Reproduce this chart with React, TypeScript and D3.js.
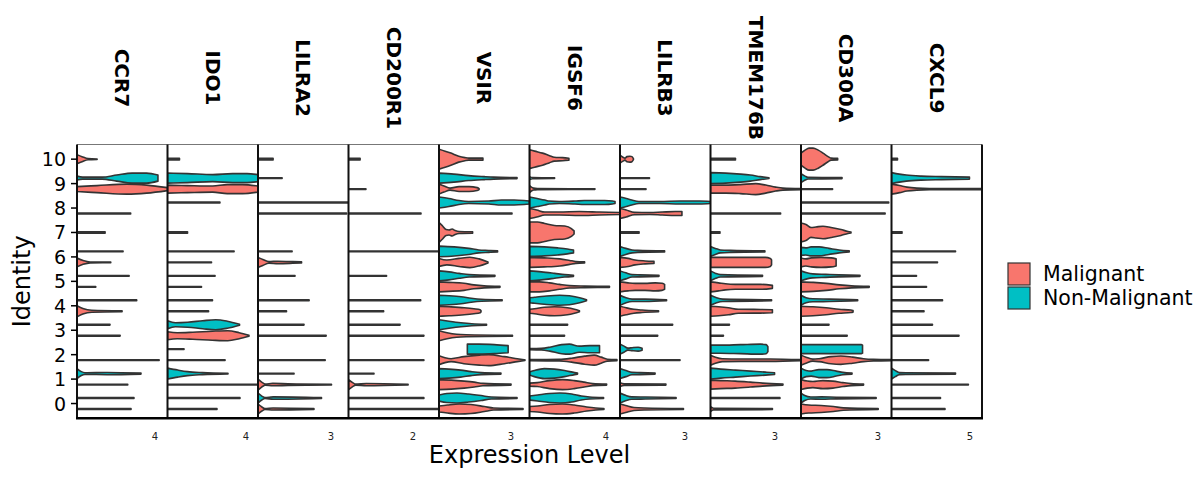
import * as d3 from 'd3'

// [identity, group (M = Malignant, N = Non-Malignant), max expression, density profile]
// profile is a flat list of (fraction of max, relative width) pairs; omitted means a bare tail
type Violin = [number, 'M' | 'N', number, number[]?]

const genes = ['CCR7', 'IDO1', 'LILRA2', 'CD200R1', 'VSIR', 'IGSF6', 'LILRB3', 'TMEM176B', 'CD300A', 'CXCL9']
const geneMax = [4.64, 4.61, 3.72, 2.81, 3.77, 4.73, 4.18, 4.21, 3.53, 5.77]
const geneTicks = [4, 4, 3, 2, 3, 4, 3, 3, 3, 5]
const identities = [0, 1, 2, 3, 4, 5, 6, 7, 8, 9, 10]
const groups = ['Malignant', 'Non-Malignant']
const groupColors = ['#F8766D', '#00BFC4']
const malignantOnly = [7, 10]

const ccr7: Violin[] = [
  [10, 'M', 1.03, [0, .41, .25, .23, .55, .05, 1, .02]],
  [9, 'N', 4.15, [0, .36, .07, .18, .31, .18, .49, .55, .68, .91, .86, .91, 1, .55]],
  [9, 'M', 4.64, [0, .45, .22, .64, .55, .91, .77, .73, 1, .27]],
  [8, 'M', 2.75], [7, 'M', 1.44], [6, 'N', 2.36],
  [6, 'M', 1.73, [0, .8, .18, .35, .39, .08, 1, .05]],
  [5, 'N', 2.67], [5, 'M', 0.96], [4, 'N', 3.06],
  [4, 'M', 2.31, [0, 1, .13, .5, .33, .18, 1, .09]],
  [3, 'N', 1.69], [3, 'M', 2.21], [2, 'M', 4.21],
  [1, 'N', 3.28, [0, .9, .06, .4, .125, .15, .47, .2, 1, .09]],
  [1, 'M', 2.6], [0, 'N', 2.92], [0, 'M', 2.77],
]

const ido1: Violin[] = [
  [10, 'M', 0.61],
  [9, 'N', 4.61, [0, .91, .22, .82, .5, .64, .72, .82, .88, .82, 1, .64]],
  [9, 'M', 4.61, [0, .73, .22, .64, .5, .55, .66, .82, .83, .82, 1, .55]],
  [8, 'N', 2.67], [7, 'M', 1.02], [6, 'N', 3.39], [6, 'M', 2.24],
  [5, 'N', 2.42], [5, 'M', 1.73], [4, 'N', 2.29], [4, 'M', 2.09],
  [3, 'N', 3.67, [0, .73, .11, .36, .28, .45, .49, .73, .67, .91, .83, .64, 1, .09]],
  [3, 'M', 4.15, [0, .73, .12, .55, .31, .64, .55, .82, .74, .91, .88, .55, 1, .09]],
  [2, 'N', 0.84], [2, 'M', 2.93],
  [1, 'N', 3.08, [0, 1, .17, .64, .33, .36, .58, .18, 1, .05]],
  [1, 'M', 4.61], [0, 'N', 3.69], [0, 'M', 2.52],
]

const lilra2: Violin[] = [
  [10, 'M', 0.62], [9, 'N', 0.99], [8, 'N', 3.72], [8, 'M', 3.64], [6, 'N', 1.4],
  [6, 'M', 1.79, [0, .91, .11, .55, .25, .15, .46, .22, .8, .15, 1, .09]],
  [5, 'N', 1.52], [4, 'N', 2.1], [4, 'M', 1.17], [3, 'N', 1.89], [3, 'M', 2.8],
  [2, 'M', 2.76], [1, 'N', 1.48],
  [1, 'M', 3.02, [0, 1, .05, .45, .1, .09, .2, .22, .41, .15, 1, .07]],
  [0, 'N', 2.61, [0, .91, .06, .36, .11, .09, .24, .22, 1, .07]],
  [0, 'M', 2.3, [0, .91, .07, .36, .125, .09, .27, .18, 1, .07]],
]

const cd200r1: Violin[] = [
  [10, 'M', 0.36], [9, 'M', 0.54], [8, 'M', 2.25], [6, 'N', 2.81], [5, 'N', 1.18],
  [4, 'N', 2.24], [4, 'M', 1.09], [3, 'N', 1.6], [3, 'M', 2.34], [2, 'M', 2.34],
  [1, 'N', 0.79],
  [1, 'M', 1.85, [0, .91, .07, .36, .12, .09, .3, .2, 1, .07]],
  [0, 'N', 2.34], [0, 'M', 2.81],
]

const vsir: Violin[] = [
  [10, 'M', 1.83, [0, .91, .14, .73, .27, .55, .45, .27, .59, .14, .68, .09, 1, .09]],
  [9, 'N', 3.25, [0, .91, .19, .73, .38, .45, .58, .27, .7, .18, 1, .09]],
  [9, 'M', 1.67, [0, .91, .125, .55, .275, .18, .5, .45, .75, .45, .95, .27, 1, .09]],
  [8, 'N', 3.77, [0, 1, .11, .73, .22, .36, .33, .18, .55, .27, .69, .45, .83, .45, .94, .36, 1, .27]],
  [8, 'M', 3.04],
  [7, 'M', 1.4, [0, .91, .09, .64, .21, .27, .3, .23, .39, .32, .48, .18, .6, .09, 1, .07]],
  [6, 'N', 2.44, [0, .96, .26, .82, .51, .55, .68, .27, .85, .18, 1, .09]],
  [6, 'M', 2.04, [0, .73, .16, .45, .41, .73, .63, .95, .82, .64, 1, .09]],
  [5, 'N', 2.33, [0, .91, .18, .73, .36, .45, .54, .22, 1, .09]],
  [5, 'M', 2.54, [0, .91, .16, .82, .41, .64, .57, .36, .74, .18, 1, .09]],
  [4, 'N', 2.63, [0, .91, .16, .82, .35, .64, .51, .36, .67, .18, 1, .09]],
  [4, 'M', 1.75, [0, .91, .24, .82, .6, .64, .83, .45, .98, .27, 1, .09]],
  [3, 'N', 1.98, [0, .91, .21, .64, .46, .36, .69, .18, 1, .09]],
  [3, 'M', 3.06, [0, .91, .11, .55, .24, .27, .37, .18, 1, .09]],
  [2, 'N', 2.88, [.41, .91, .58, .91, .8, .82, 1, .64]],
  [2, 'M', 3.58, [0, .82, .07, .45, .14, .27, .29, .64, .47, .91, .58, 1, .76, .64, .91, .27, 1, .05]],
  [1, 'N', 2.58, [0, .91, .16, .82, .35, .64, .52, .36, .68, .18, 1, .09]],
  [1, 'M', 3.0, [0, .91, .17, .82, .35, .64, .49, .45, .61, .22, 1, .09]],
  [0, 'N', 3.25, [0, .55, .1, .82, .23, .91, .38, .73, .54, .45, .67, .18, 1, .09]],
  [0, 'M', 3.5, [0, .55, .1, .73, .24, .91, .38, .82, .54, .45, .65, .18, 1, .09]],
]

const igsf6: Violin[] = [
  [10, 'M', 2.06, [0, .86, .13, .73, .33, .55, .51, .32, .63, .18, .84, .14, 1, .09]],
  [9, 'N', 1.31, [0, .27, .12, .09, 1, .05]],
  [9, 'M', 3.42, [0, .64, .06, .18, .12, .09, 1, .05]],
  [8, 'N', 4.47, [0, 1, .09, .73, .18, .45, .23, .27, .35, .18, .53, .27, .64, .36, .88, .36, .97, .27, 1, .18]],
  [8, 'M', 4.73, [0, .91, .08, .64, .17, .27, .33, .27, .55, .36, .77, .27, 1, .18]],
  [7, 'M', 2.33, [0, .95, .18, .95, .34, .82, .56, .64, .79, .59, .94, .36, 1, .14]],
  [6, 'N', 2.3, [0, .91, .34, .82, .64, .64, .86, .45, 1, .27]],
  [6, 'M', 2.88, [0, .91, .27, .82, .55, .64, .73, .36, .84, .18, 1, .09]],
  [5, 'N', 2.3, [0, .91, .27, .73, .57, .45, .8, .22, 1, .09]],
  [5, 'M', 4.18, [0, .91, .125, .91, .25, .73, .375, .45, .5, .22, .69, .15, 1, .09]],
  [4, 'N', 2.98, [0, .45, .09, .55, .26, .73, .53, .91, .7, .82, .88, .45, 1, .09]],
  [4, 'M', 2.61, [0, .36, .1, .45, .3, .73, .5, .82, .76, .64, .9, .36, 1, .09]],
  [3, 'N', 1.99], [3, 'M', 1.83],
  [2, 'N', 3.66, [0, .09, .17, .15, .29, .36, .46, .82, .57, .91, .71, .55, .86, .64, 1, .64]],
  [2, 'M', 4.57, [0, .09, .34, .15, .48, .36, .63, .73, .74, .91, .82, .55, .89, .18, 1, .09]],
  [1, 'N', 2.51, [0, .27, .1, .55, .31, .91, .52, .82, .73, .55, .94, .18, 1, .09]],
  [1, 'M', 4.03, [0, .27, .1, .36, .26, .73, .43, .91, .58, .73, .71, .45, .82, .18, 1, .09]],
  [0, 'N', 3.87, [0, .36, .11, .55, .27, .82, .41, .91, .57, .73, .7, .36, .81, .18, 1, .09]],
  [0, 'M', 3.89, [0, .45, .11, .55, .27, .82, .44, .91, .6, .73, .77, .36, .89, .18, 1, .09]],
]

const lilrb3: Violin[] = [
  [10, 'M', 0.62, [0, .36, .22, .18, .37, .09, .52, .23, .74, .27, .89, .23, 1, .05]],
  [9, 'N', 1.36], [9, 'M', 1.2],
  [8, 'N', 4.18, [0, 1, .07, .73, .13, .45, .21, .18, .44, .18, .66, .27, .88, .27, 1, .18]],
  [8, 'M', 2.86, [0, .91, .1, .64, .23, .22, .48, .18, .68, .27, .89, .36, 1, .36]],
  [7, 'M', 0.88],
  [6, 'N', 2.06, [0, .91, .13, .55, .27, .27, .4, .18, 1, .09]],
  [6, 'M', 1.57, [0, .91, .24, .73, .44, .45, .74, .27, 1, .18]],
  [5, 'N', 1.8, [0, .91, .15, .55, .31, .22, .51, .18, 1, .09]],
  [5, 'M', 2.06, [0, .91, .18, .73, .34, .64, .56, .64, .79, .73, .94, .64, 1, .45]],
  [4, 'N', 2.15, [0, .91, .13, .45, .26, .22, .54, .22, 1, .09]],
  [4, 'M', 1.78, [0, .91, .16, .64, .36, .36, .57, .22, 1, .09]],
  [3, 'N', 2.43], [3, 'M', 1.74],
  [2, 'N', 1.02, [0, .91, .18, .55, .36, .18, .55, .27, .82, .36, 1, .18]],
  [2, 'M', 2.77],
  [1, 'N', 1.62, [0, .91, .17, .55, .34, .22, .57, .18, 1, .09]],
  [1, 'M', 2.12, [0, .36, .09, .15, 1, .09]],
  [0, 'N', 2.59, [0, .91, .11, .45, .21, .22, .45, .18, 1, .09]],
  [0, 'M', 2.93, [0, .91, .09, .64, .22, .27, .39, .18, 1, .09]],
]

const tmem176b: Violin[] = [
  [10, 'M', 1.16],
  [9, 'N', 2.72, [0, 1, .26, .91, .51, .73, .68, .55, .85, .27, 1, .05]],
  [9, 'M', 4.21, [0, .73, .17, .73, .33, .82, .5, 1, .61, .73, .72, .36, .8, .18, 1, .09]],
  [8, 'M', 3.26], [7, 'M', 0.44],
  [6, 'N', 2.53, [0, .91, .09, .55, .18, .27, .37, .18, 1, .09]],
  [6, 'M', 2.84, [0, .91, .33, .91, .66, .91, .9, .91, .98, .73, 1, .45]],
  [5, 'N', 2.42, [0, .91, .1, .45, .19, .22, 1, .09]],
  [5, 'M', 2.88, [0, .91, .13, .73, .24, .55, .4, .45, .81, .45, 1, .27]],
  [4, 'N', 2.84, [0, .91, .1, .45, .2, .22, 1, .09]],
  [4, 'M', 2.88, [0, .91, .13, .82, .29, .64, .45, .36, .81, .33, 1, .27]],
  [3, 'N', 0.88], [3, 'M', 0.6],
  [2, 'N', 2.67, [0, .73, .17, .73, .52, .82, .87, .91, .97, .82, 1, .45]],
  [2, 'M', 4.21, [0, .91, .055, .55, .13, .27, .33, .22, .66, .22, 1, .09]],
  [1, 'N', 2.98, [0, 1, .16, .82, .39, .64, .625, .45, .86, .27, 1, .15]],
  [1, 'M', 3.37, [0, .82, .14, .73, .34, .64, .55, .45, .72, .27, 1, .09]],
  [0, 'N', 3.23],
  [0, 'M', 2.88, [0, .45, .05, .15, 1, .09]],
]

const cd300a: Violin[] = [
  [10, 'M', 1.43, [0, .55, .11, .82, .22, 1, .33, 1, .47, .82, .6, .55, .74, .23, .82, .09, 1, .07]],
  [9, 'N', 1.6, [0, .82, .1, .36, .17, .15, 1, .09]],
  [9, 'M', 1.23], [8, 'N', 3.42], [8, 'M', 3.28],
  [7, 'M', 1.95, [0, .86, .1, .73, .2, .45, .3, .5, .44, .57, .6, .45, .8, .27, .94, .09, 1, .05]],
  [6, 'N', 1.88, [0, .73, .1, .64, .21, .82, .375, .82, .58, .55, .79, .27, 1, .09]],
  [6, 'M', 1.37, [0, .82, .14, .64, .29, .82, .57, .91, .86, .82, 1, .64]],
  [5, 'N', 2.3, [0, .91, .1, .55, .2, .36, .42, .27, .64, .18, 1, .09]],
  [5, 'M', 2.66, [0, .91, .18, .82, .37, .64, .56, .36, .74, .18, 1, .09]],
  [4, 'N', 2.21, [0, .91, .09, .45, .21, .27, .5, .22, 1, .09]],
  [4, 'M', 2.03, [0, .91, .23, .82, .48, .64, .73, .36, .96, .22, 1, .15]],
  [3, 'N', 1.09], [3, 'M', 1.8],
  [2, 'N', 2.4, [0, .82, .33, .82, .65, .82, .98, .82, 1, .73]],
  [2, 'M', 3.53, [0, .91, .055, .55, .13, .18, .2, .27, .33, .64, .44, .76, .57, .55, .69, .27, .8, .15, 1, .09]],
  [1, 'N', 1.99, [0, 1, .1, .55, .2, .45, .35, .73, .51, .73, .69, .45, .82, .22, 1, .09]],
  [1, 'M', 2.44, [0, .91, .1, .64, .19, .55, .35, .73, .51, .64, .67, .36, .8, .18, 1, .09]],
  [0, 'N', 2.93, [0, .91, .05, .45, .13, .18, .27, .22, .47, .15, 1, .09]],
  [0, 'M', 3.01, [0, .91, .1, .73, .26, .64, .42, .45, .55, .22, 1, .09]],
]

const cxcl9: Violin[] = [
  [10, 'M', 0.38],
  [9, 'N', 4.97, [0, 1, .1, .73, .19, .55, .38, .36, .64, .27, 1, .18]],
  [9, 'M', 5.77, [0, .91, .09, .64, .17, .36, .28, .18, .42, .11, 1, .09]],
  [7, 'M', 0.67], [6, 'N', 4.08], [6, 'M', 2.93], [5, 'N', 1.59], [5, 'M', 2.23],
  [4, 'N', 3.25], [4, 'M', 2.07], [3, 'N', 2.61], [3, 'M', 4.3], [2, 'M', 2.36],
  [1, 'N', 4.08, [0, 1, .06, .55, .125, .18, .23, .15, 1, .09]],
  [1, 'M', 4.9], [0, 'N', 3.12], [0, 'M', 3.41],
]

const violinsByGene = [ccr7, ido1, lilra2, cd200r1, vsir, igsf6, lilrb3, tmem176b, cd300a, cxcl9]

const width = 1200
const height = 480
const plotLeft = 77
const plotRight = 982
const plotTop = 144.5
const plotBottom = 418.2
const font = 'DejaVu Sans, Verdana, sans-serif'
const tailProfile = [0, .07, 1, .07]

const y = d3.scaleLinear().domain([-0.6, 10.6]).range([plotBottom, plotTop])
const panel = d3.scaleBand<string>().domain(genes).range([plotLeft, plotRight]).paddingInner(0)

const violinArea = d3.area<number[]>()
  .x(d => d[0])
  .y0(d => d[1])
  .y1(d => d[2])
  .curve(d3.curveMonotoneX)

function violinPath(v: Violin, x: d3.ScaleLinear<number, number>) {
  const [ident, g, max, profile] = v
  const single = malignantOnly.includes(ident)
  const center = single ? ident : ident + (g === 'M' ? -0.225 : 0.225)
  const half = single ? 0.45 : 0.225
  const p = profile ?? tailProfile
  const pts: number[][] = []
  for (let i = 0; i < p.length; i += 2) {
    pts.push([x(p[i] * max), y(center + p[i + 1] * half), y(center - p[i + 1] * half)])
  }
  return violinArea(pts) ?? ''
}

const App = () => {
  const bw = panel.bandwidth()

  return (
    <svg width={width} height={height} style={{ position: 'absolute', left: 0, top: 0, background: '#fff' }}>
      <defs>
        {genes.map(gene => (
          <clipPath id={`clip-${gene}`} key={gene}>
            <rect x={panel(gene)} y={plotTop} width={bw} height={plotBottom - plotTop} />
          </clipPath>
        ))}
      </defs>

      {genes.map((gene, gi) => {
        const x0 = panel(gene) as number
        const x = d3.scaleLinear().domain([0, geneMax[gi]]).range([x0, x0 + bw])
        return (
          <g key={gene}>
            <g clipPath={`url(#clip-${gene})`}>
              {violinsByGene[gi].map((v, i) => (
                <path
                  key={i}
                  d={violinPath(v, x)}
                  fill={groupColors[v[1] === 'M' ? 0 : 1]}
                  stroke="#333"
                  strokeWidth={1.6}
                  strokeLinejoin="round"
                />
              ))}
            </g>
            <text
              transform={`translate(${x0 + bw / 2},78) rotate(90)`}
              textAnchor="middle"
              dominantBaseline="central"
              fontFamily={font}
              fontWeight="bold"
              fontSize={20}
            >
              {gene}
            </text>
            <text
              x={x(geneTicks[gi])}
              y={436}
              textAnchor="middle"
              dominantBaseline="central"
              fontFamily={font}
              fontSize={10}
              fill="#222"
            >
              {geneTicks[gi]}
            </text>
          </g>
        )
      })}

      {/* panel frame */}
      <line x1={plotLeft} x2={plotRight} y1={plotTop} y2={plotTop} stroke="#777" strokeWidth={1} />
      {genes.map(gene => (
        <line key={gene} x1={panel(gene)} x2={panel(gene)} y1={plotTop} y2={plotBottom} stroke="#111" strokeWidth={2} />
      ))}
      <line x1={plotRight} x2={plotRight} y1={plotTop} y2={plotBottom} stroke="#111" strokeWidth={2} />
      <line x1={plotLeft - 1} x2={plotRight + 1} y1={plotBottom} y2={plotBottom} stroke="#000" strokeWidth={2.4} />

      {/* identity axis */}
      {identities.map(id => (
        <g key={id}>
          <line x1={71} x2={plotLeft} y1={y(id)} y2={y(id)} stroke="#000" strokeWidth={1.5} />
          <text x={66} y={y(id)} textAnchor="end" dominantBaseline="central" fontFamily={font} fontSize={19}>
            {id}
          </text>
        </g>
      ))}
      <text
        transform={`translate(22,${(plotTop + plotBottom) / 2}) rotate(-90)`}
        textAnchor="middle"
        dominantBaseline="central"
        fontFamily={font}
        fontSize={24}
      >
        Identity
      </text>
      <text
        x={(plotLeft + plotRight) / 2}
        y={455}
        textAnchor="middle"
        dominantBaseline="central"
        fontFamily={font}
        fontSize={24}
      >
        Expression Level
      </text>

      {/* legend */}
      {groups.map((g, i) => (
        <g key={g} transform={`translate(1008,${263 + i * 24})`}>
          <rect width={22} height={22} fill={groupColors[i]} stroke="#333" strokeWidth={1.2} />
          <text x={35} y={11} dominantBaseline="central" fontFamily={font} fontSize={20.5}>
            {g}
          </text>
        </g>
      ))}
    </svg>
  )
}

export default App
